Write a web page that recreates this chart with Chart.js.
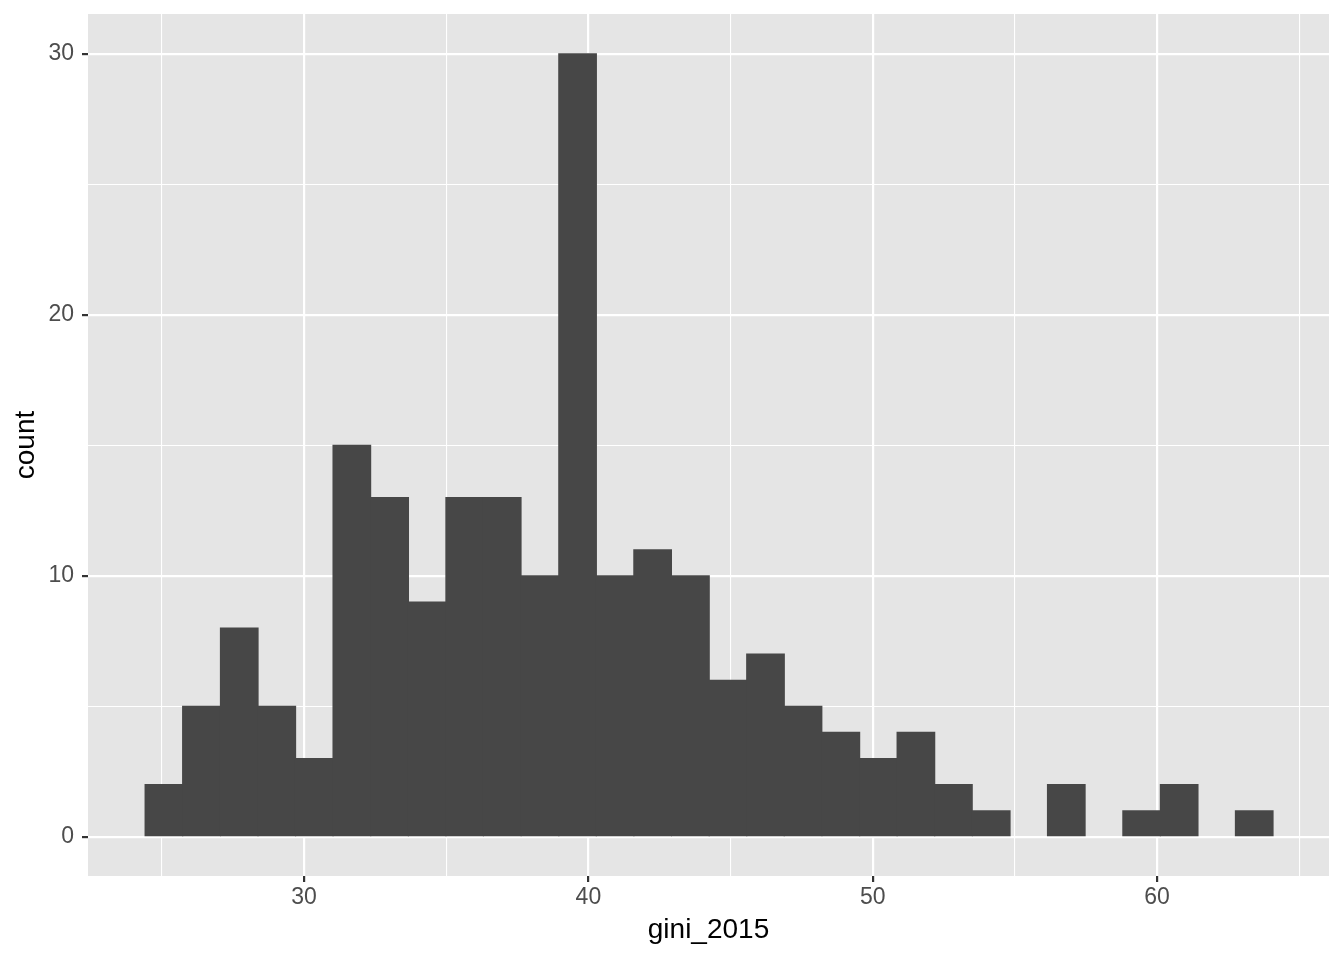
<!DOCTYPE html>
<html>
<head>
<meta charset="utf-8">
<script src="https://cdn.jsdelivr.net/npm/chart.js@4.4.0/dist/chart.umd.min.js"></script>
<style>
html,body{margin:0;padding:0;background:#fff;}
#wrap{width:1344px;height:960px;}
</style>
</head>
<body>
<div id="wrap"><canvas id="c" width="1344" height="960"></canvas></div>
<script>
const binCenters = [25.07, 26.39, 27.72, 29.04, 30.36, 31.68, 33.01, 34.33, 35.65, 36.97,
                    38.30, 39.62, 40.94, 42.26, 43.59, 44.91, 46.23, 47.55, 48.88, 50.20,
                    51.52, 52.84, 54.17, 55.49, 56.81, 58.13, 59.46, 60.78, 62.10, 63.42];
const counts = [2, 5, 8, 5, 3, 15, 13, 9, 13, 13,
                10, 30, 10, 11, 10, 6, 7, 5, 4, 3,
                4, 2, 1, 0, 2, 0, 1, 2, 0, 1];
const xTickLabels = [30, 40, 50, 60];
const yTickLabels = [0, 10, 20, 30];
const xTitle = "gini_2015";
const yTitle = "count";

const points = binCenters.map((x, i) => ({x: x, y: counts[i]}));

const panelBg = {
  id: 'panelBg',
  beforeDraw(chart) {
    const {ctx, chartArea: a} = chart;
    ctx.save();
    ctx.fillStyle = '#E5E5E5';
    ctx.fillRect(a.left, a.top, a.right - a.left, a.bottom - a.top);
    ctx.restore();
  }
};

const isMajor = (c, labels) => !!(c && c.tick && labels.includes(c.tick.value));
const FONT = '"Liberation Sans", Arial, Helvetica, sans-serif';

new Chart(document.getElementById('c'), {
  type: 'bar',
  data: {
    datasets: [{
      data: points,
      backgroundColor: c => (c.raw && c.raw.y === 0) ? 'rgba(0,0,0,0)' : '#474747',
      borderWidth: 0,
      inflateAmount: 0.6,
      barPercentage: 1.0,
      categoryPercentage: 1.0
    }]
  },
  plugins: [panelBg],
  options: {
    responsive: false,
    animation: false,
    devicePixelRatio: 1,
    layout: {padding: {left: 0, top: 14, right: 15, bottom: 0}},
    plugins: {legend: {display: false}, tooltip: {enabled: false}},
    scales: {
      x: {
        type: 'linear',
        offset: false,
        min: 22.4,
        max: 66.05,
        afterFit(s) { s.height = 84; s.paddingLeft = 0; s.paddingRight = 0; },
        border: {display: false},
        grid: {
          offset: false,
          color: '#FFFFFF',
          lineWidth: c => isMajor(c, xTickLabels) ? 2.2 : 1.1,
          drawTicks: true,
          tickLength: 6,
          tickWidth: 2.2,
          tickColor: c => isMajor(c, xTickLabels) ? '#333333' : 'rgba(0,0,0,0)'
        },
        ticks: {
          stepSize: 5,
          includeBounds: false,
          autoSkip: false,
          maxRotation: 0,
          padding: 2,
          color: '#4D4D4D',
          font: {family: FONT, size: 23},
          callback: v => xTickLabels.includes(v) ? String(v) : ''
        },
        title: {
          display: true,
          text: xTitle,
          color: '#000000',
          font: {family: FONT, size: 28},
          padding: {top: 0, bottom: 13}
        }
      },
      y: {
        type: 'linear',
        min: -1.5,
        max: 31.53,
        afterFit(s) { s.width = 88; s.paddingTop = 0; s.paddingBottom = 0; },
        border: {display: false},
        grid: {
          color: '#FFFFFF',
          lineWidth: c => isMajor(c, yTickLabels) ? 2.2 : 1.1,
          drawTicks: true,
          tickLength: 6,
          tickWidth: 2.2,
          tickColor: c => isMajor(c, yTickLabels) ? '#333333' : 'rgba(0,0,0,0)'
        },
        ticks: {
          stepSize: 5,
          includeBounds: false,
          autoSkip: false,
          padding: 8,
          color: '#4D4D4D',
          font: {family: FONT, size: 23},
          callback: v => yTickLabels.includes(v) ? String(v) : ''
        },
        title: {
          display: true,
          text: yTitle,
          color: '#000000',
          font: {family: FONT, size: 28},
          padding: {top: 9, bottom: 0}
        }
      }
    }
  }
});
</script>
</body>
</html>
